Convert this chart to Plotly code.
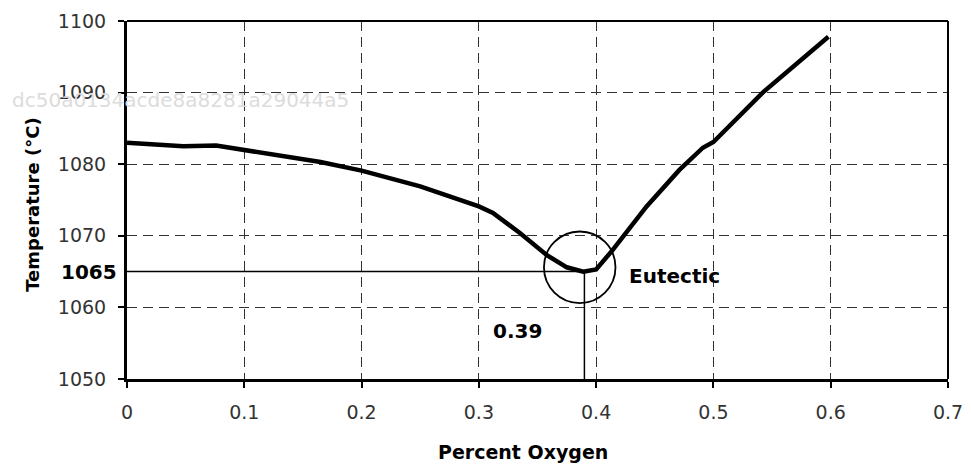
import plotly.graph_objects as go

# Liquidus curve of the Cu-O system near the eutectic
oxygen_pct = [0, 0.048, 0.076, 0.1, 0.165, 0.2, 0.25, 0.3, 0.312, 0.335, 0.358, 0.375,
              0.389, 0.4, 0.414, 0.443, 0.471, 0.491, 0.5, 0.542, 0.598]
temperature_c = [1083.0, 1082.5, 1082.6, 1082.0, 1080.3, 1079.1, 1076.9, 1074.1, 1073.2,
                 1070.4, 1067.3, 1065.6, 1065.0, 1065.3, 1068.0, 1074.1, 1079.2, 1082.3,
                 1083.1, 1090.0, 1097.8]

eutectic_x = 0.39
eutectic_t = 1065
x_ticks = [0, 0.1, 0.2, 0.3, 0.4, 0.5, 0.6, 0.7]
x_tick_labels = ["0", "0.1", "0.2", "0.3", "0.4", "0.5", "0.6", "0.7"]
y_ticks = [1050, 1060, 1070, 1080, 1090, 1100]
y_tick_labels = ["1050", "1060", "1070", "1080", "1090", "1100"]
x_range = [0, 0.7]
y_range = [1050, 1100]

FONT = "DejaVu Sans"

fig = go.Figure()

# reference lines to the eutectic point
fig.add_trace(go.Scatter(x=[0, eutectic_x], y=[eutectic_t, eutectic_t], mode="lines",
                         line=dict(color="black", width=1.5), hoverinfo="skip", showlegend=False))
fig.add_trace(go.Scatter(x=[eutectic_x, eutectic_x], y=[eutectic_t, y_range[0]], mode="lines",
                         line=dict(color="black", width=1.5), hoverinfo="skip", showlegend=False))

fig.add_trace(go.Scatter(x=oxygen_pct, y=temperature_c, mode="lines",
                         line=dict(color="black", width=4.5), showlegend=False))

axis_common = dict(
    showgrid=True, gridcolor="#333333", gridwidth=1.4, griddash="10px,6px",
    showline=True, linecolor="black", linewidth=3, mirror=False,
    ticks="outside", ticklen=6, tickwidth=1.5, tickcolor="black",
    tickfont=dict(family=FONT, size=19, color="#333333"), zeroline=False,
    automargin=False,
)

fig.update_xaxes(range=x_range, tickvals=x_ticks, ticktext=x_tick_labels,
                 ticklabelstandoff=8, **axis_common)
fig.update_yaxes(range=y_range, tickvals=y_ticks, ticktext=y_tick_labels,
                 ticklabelstandoff=8, **axis_common)

# top and right border
fig.add_shape(type="line", xref="paper", yref="paper", x0=0, x1=1, y0=1, y1=1,
              line=dict(color="black", width=2))
fig.add_shape(type="line", xref="paper", yref="paper", x0=1, x1=1, y0=0, y1=1,
              line=dict(color="black", width=2))

# circle around eutectic
fig.add_shape(type="circle", xref="x", yref="y", x0=0.3555, x1=0.4165, y0=1060.6, y1=1070.6,
              line=dict(color="black", width=1.8))

annotations = [
    dict(text="dc50a0134acde8a8281a29044a5", xref="paper", yref="paper", x=-0.143, y=0.779,
         xanchor="left", yanchor="middle", showarrow=False,
         font=dict(family=FONT, size=20, color="#dcdcdc")),
    dict(text="<b>1065</b>", xref="paper", yref="y", x=-0.010, y=eutectic_t,
         xanchor="right", yanchor="middle", showarrow=False,
         font=dict(family=FONT, size=20, color="black")),
    dict(text="<b>0.39</b>", xref="x", yref="y", x=0.333, y=1056.7,
         xanchor="center", yanchor="middle", showarrow=False,
         font=dict(family=FONT, size=20, color="black")),
    dict(text="<b>Eutectic</b>", xref="x", yref="y", x=0.426, y=1064.4,
         xanchor="left", yanchor="middle", showarrow=False,
         font=dict(family=FONT, size=20, color="black")),
    dict(text="<b>Temperature (°C)</b>", xref="paper", yref="paper", x=-0.116, y=0.486,
         xanchor="center", yanchor="middle", textangle=-90, showarrow=False,
         font=dict(family=FONT, size=18, color="black")),
    dict(text="<b>Percent Oxygen</b>", xref="paper", yref="paper", x=0.482, y=-0.204,
         xanchor="center", yanchor="middle", showarrow=False,
         font=dict(family=FONT, size=19, color="black")),
]

# the page body has an 8px default margin, so the figure is sized to fit the window
fig.update_layout(
    width=963, height=457,
    margin=dict(l=119, r=23, t=13, b=86, autoexpand=False),
    paper_bgcolor="white", plot_bgcolor="white",
    annotations=annotations,
    showlegend=False,
)

fig.write_html("out.html")
